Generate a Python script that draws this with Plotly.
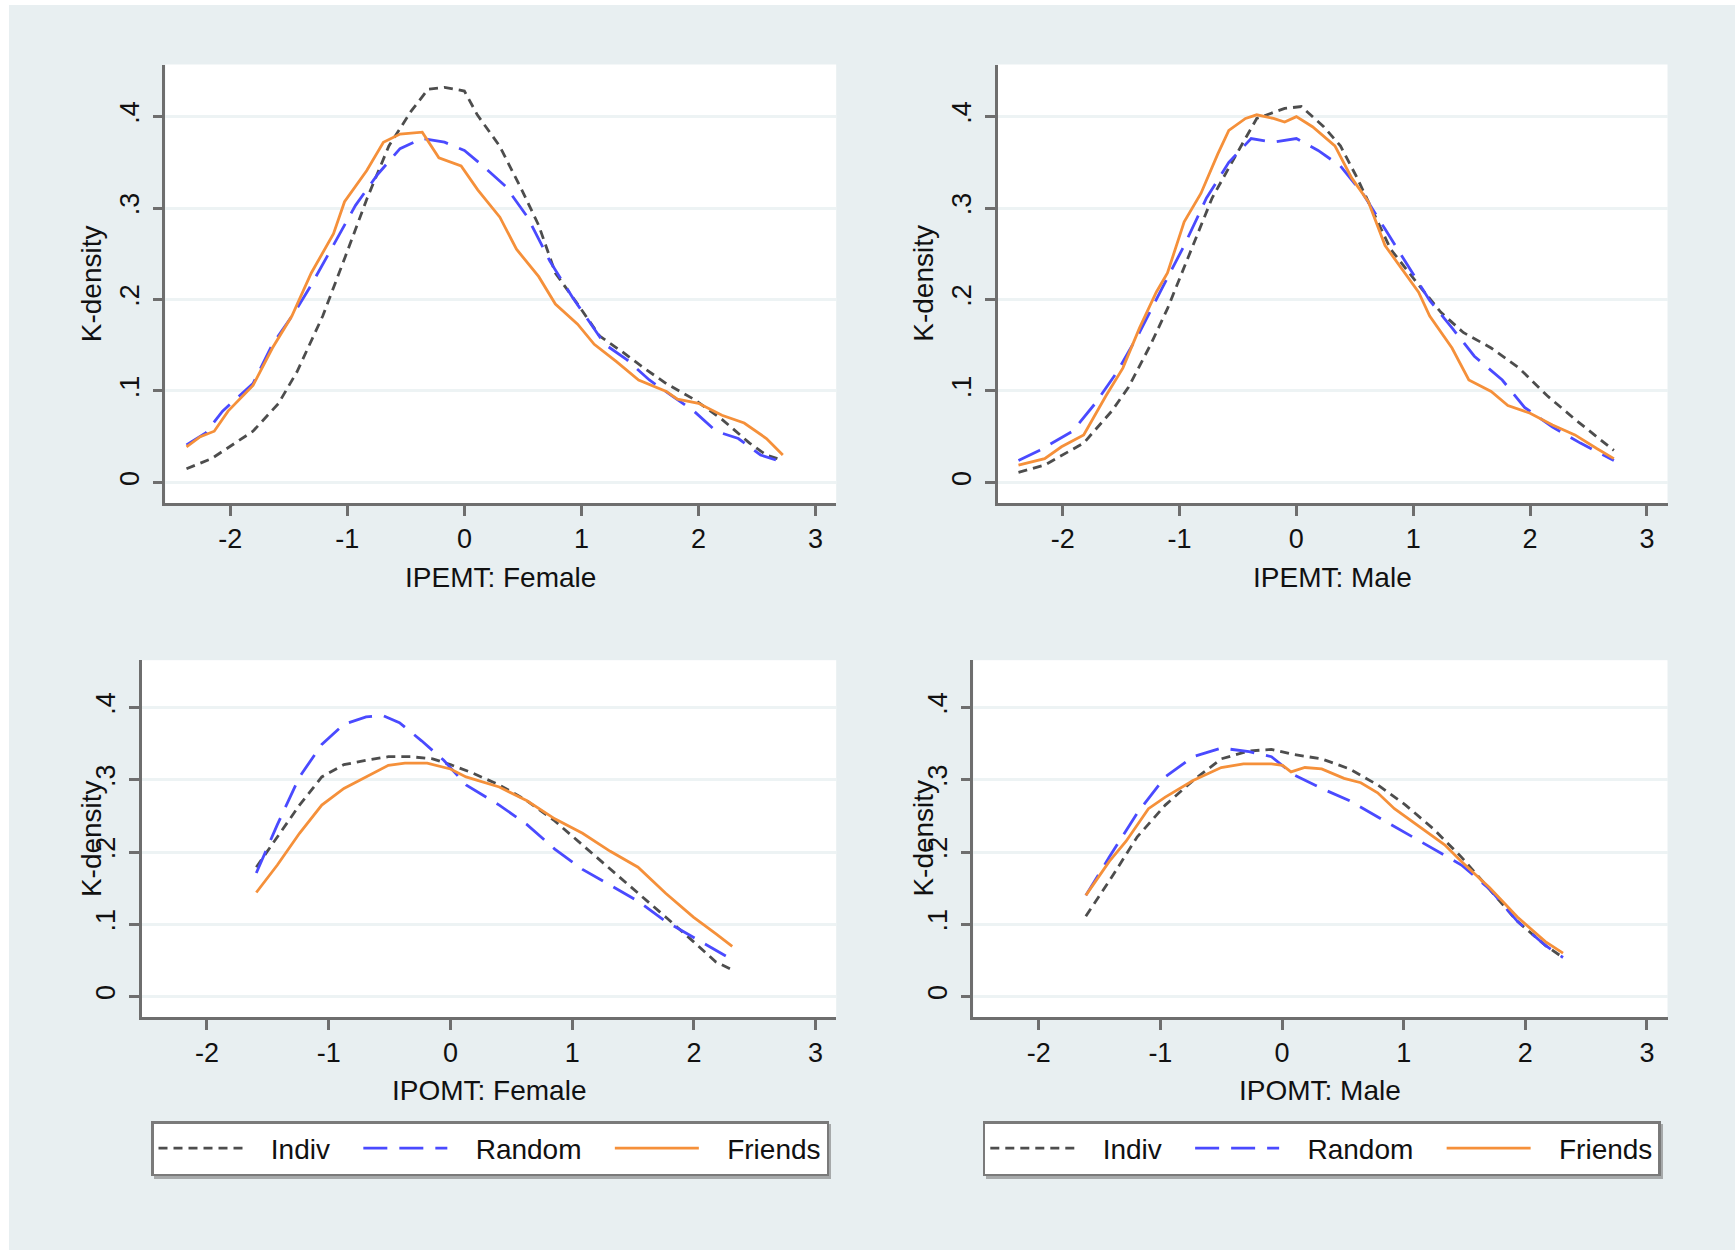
import plotly.graph_objects as go

# ---------------- data ----------------
series_names = ["Indiv", "Random", "Friends"]
panel_titles = ["IPEMT: Female", "IPEMT: Male", "IPOMT: Female", "IPOMT: Male"]
y_tick_vals = [0, 0.1, 0.2, 0.3, 0.4]
y_tick_text = ["0", ".1", ".2", ".3", ".4"]
x_tick_vals = [-2, -1, 0, 1, 2, 3]
x_tick_text = ["-2", "-1", "0", "1", "2", "3"]

# Panel 1: IPEMT Female
p1_indiv_x = [-2.374, -2.16, -1.806, -1.59, -1.43, -1.21, -1.02, -0.83, -0.645, -0.455, -0.31, -0.17, 0.0, 0.11, 0.30, 0.49, 0.635, 0.777, 0.967, 1.156, 1.346, 1.535, 1.725, 1.96, 2.2, 2.436, 2.578, 2.72]
p1_indiv_y = [0.015, 0.026, 0.056, 0.086, 0.121, 0.182, 0.246, 0.311, 0.368, 0.406, 0.430, 0.432, 0.428, 0.402, 0.368, 0.320, 0.281, 0.229, 0.195, 0.160, 0.143, 0.125, 0.108, 0.091, 0.069, 0.043, 0.030, 0.024]
p1_random_x = [-2.374, -2.21, -2.066, -1.806, -1.64, -1.45, -1.308, -1.118, -0.93, -0.74, -0.55, -0.36, -0.17, 0.0, 0.16, 0.35, 0.54, 0.73, 0.92, 1.06, 1.2, 1.39, 1.58, 1.77, 1.96, 2.15, 2.34, 2.53, 2.72]
p1_random_y = [0.041, 0.054, 0.078, 0.108, 0.151, 0.186, 0.216, 0.259, 0.303, 0.337, 0.365, 0.376, 0.372, 0.363, 0.346, 0.324, 0.290, 0.242, 0.203, 0.177, 0.151, 0.134, 0.112, 0.095, 0.078, 0.056, 0.048, 0.030, 0.022]
p1_friends_x = [-2.374, -2.256, -2.137, -2.019, -1.806, -1.64, -1.474, -1.308, -1.118, -1.024, -0.834, -0.692, -0.55, -0.36, -0.218, -0.028, 0.114, 0.303, 0.445, 0.635, 0.777, 0.967, 1.109, 1.299, 1.488, 1.725, 1.82, 2.0, 2.2, 2.39, 2.58, 2.72]
p1_friends_y = [0.039, 0.050, 0.056, 0.078, 0.106, 0.147, 0.182, 0.229, 0.272, 0.307, 0.341, 0.372, 0.381, 0.383, 0.355, 0.346, 0.320, 0.290, 0.255, 0.225, 0.195, 0.173, 0.151, 0.132, 0.112, 0.0995, 0.091, 0.0865, 0.0735, 0.065, 0.048, 0.030]

# Panel 2: IPEMT Male
p2_indiv_x = [-2.378, -2.154, -1.82, -1.58, -1.437, -1.246, -1.103, -0.912, -0.721, -0.53, -0.339, -0.1, 0.043, 0.234, 0.377, 0.52, 0.664, 0.807, 1.046, 1.237, 1.428, 1.667, 1.906, 2.145, 2.384, 2.717]
p2_indiv_y = [0.011, 0.019, 0.043, 0.078, 0.104, 0.151, 0.190, 0.251, 0.311, 0.355, 0.398, 0.409, 0.411, 0.389, 0.368, 0.333, 0.294, 0.255, 0.216, 0.186, 0.164, 0.147, 0.125, 0.095, 0.069, 0.035]
p2_random_x = [-2.378, -2.2, -1.915, -1.724, -1.533, -1.342, -1.151, -0.96, -0.769, -0.578, -0.387, -0.196, 0.0, 0.186, 0.377, 0.568, 0.759, 0.95, 1.141, 1.332, 1.523, 1.762, 1.953, 2.192, 2.431, 2.717]
p2_random_y = [0.024, 0.035, 0.056, 0.086, 0.121, 0.164, 0.212, 0.259, 0.311, 0.350, 0.376, 0.372, 0.376, 0.363, 0.346, 0.316, 0.277, 0.238, 0.199, 0.169, 0.138, 0.112, 0.082, 0.0605, 0.043, 0.024]
p2_friends_x = [-2.378, -2.154, -2.01, -1.82, -1.628, -1.485, -1.342, -1.199, -1.103, -0.96, -0.817, -0.673, -0.578, -0.435, -0.339, -0.196, -0.1, 0.0, 0.138, 0.33, 0.473, 0.616, 0.759, 0.903, 1.046, 1.141, 1.332, 1.476, 1.667, 1.81, 2.0, 2.192, 2.384, 2.574, 2.717]
p2_friends_y = [0.019, 0.026, 0.039, 0.052, 0.095, 0.125, 0.169, 0.208, 0.229, 0.285, 0.316, 0.359, 0.385, 0.398, 0.402, 0.398, 0.394, 0.400, 0.389, 0.368, 0.333, 0.307, 0.259, 0.234, 0.208, 0.182, 0.147, 0.112, 0.0995, 0.084, 0.0757, 0.0627, 0.052, 0.0368, 0.026]

# Panel 3: IPOMT Female
p3_indiv_x = [-1.595, -1.422, -1.24, -1.057, -0.875, -0.693, -0.51, -0.328, -0.146, 0.0, 0.173, 0.401, 0.629, 0.857, 1.085, 1.313, 1.541, 1.768, 1.996, 2.179, 2.315]
p3_indiv_y = [0.179, 0.221, 0.265, 0.304, 0.321, 0.327, 0.332, 0.332, 0.329, 0.321, 0.310, 0.293, 0.271, 0.243, 0.210, 0.176, 0.143, 0.110, 0.076, 0.048, 0.037]
p3_random_x = [-1.595, -1.422, -1.24, -1.057, -0.875, -0.693, -0.556, -0.419, -0.237, -0.055, 0.128, 0.401, 0.629, 0.857, 1.085, 1.313, 1.541, 1.768, 1.996, 2.179, 2.315]
p3_random_y = [0.171, 0.238, 0.304, 0.349, 0.377, 0.387, 0.389, 0.379, 0.354, 0.327, 0.293, 0.265, 0.238, 0.204, 0.176, 0.154, 0.132, 0.104, 0.0818, 0.065, 0.051]
p3_friends_x = [-1.595, -1.422, -1.24, -1.057, -0.875, -0.693, -0.51, -0.374, -0.191, 0.0, 0.128, 0.401, 0.629, 0.857, 1.085, 1.313, 1.541, 1.768, 1.996, 2.179, 2.315]
p3_friends_y = [0.144, 0.182, 0.226, 0.265, 0.288, 0.304, 0.320, 0.323, 0.323, 0.315, 0.304, 0.290, 0.271, 0.246, 0.226, 0.201, 0.179, 0.143, 0.110, 0.087, 0.0695]

# Panel 4: IPOMT Male
p4_indiv_x = [-1.613, -1.42, -1.19, -0.96, -0.731, -0.5, -0.271, -0.087, 0.097, 0.326, 0.556, 0.786, 1.016, 1.245, 1.475, 1.705, 1.935, 2.165, 2.31]
p4_indiv_y = [0.111, 0.160, 0.221, 0.265, 0.299, 0.329, 0.340, 0.342, 0.335, 0.329, 0.315, 0.293, 0.265, 0.232, 0.193, 0.149, 0.104, 0.0707, 0.054]
p4_random_x = [-1.613, -1.42, -1.19, -0.96, -0.731, -0.5, -0.271, -0.087, 0.097, 0.326, 0.556, 0.786, 1.016, 1.245, 1.475, 1.705, 1.935, 2.165, 2.31]
p4_random_y = [0.140, 0.193, 0.254, 0.304, 0.332, 0.344, 0.339, 0.332, 0.307, 0.288, 0.271, 0.249, 0.226, 0.204, 0.182, 0.149, 0.104, 0.0707, 0.054]
p4_friends_x = [-1.613, -1.42, -1.282, -1.098, -0.96, -0.731, -0.5, -0.317, -0.087, 0.005, 0.074, 0.188, 0.326, 0.51, 0.648, 0.786, 0.924, 1.108, 1.337, 1.475, 1.705, 1.935, 2.165, 2.31]
p4_friends_y = [0.140, 0.187, 0.215, 0.260, 0.276, 0.299, 0.317, 0.322, 0.322, 0.320, 0.311, 0.317, 0.315, 0.302, 0.296, 0.282, 0.260, 0.238, 0.210, 0.187, 0.151, 0.110, 0.076, 0.060]

# ---------------- styling ----------------
W, H = 1735, 1250
FONT = "Liberation Sans, Arial, Helvetica, sans-serif"
BG = "#e8eff1"
GRID = "#edf3f4"
AXIS = "#6e6e6e"
NB = "\u00a0"
styles = {
    "Indiv": dict(color="#4d4d4d", dash="9px,6px", width=2.8),
    "Random": dict(color="#4a4aff", dash="24px,12px", width=2.8),
    "Friends": dict(color="#f5903a", dash="solid", width=2.8),
}
# legend label padding (gap after the line sample, and between entries)
legend_labels = {
    "Indiv": NB * 3 + "Indiv" + NB * 3,
    "Random": NB * 3 + "Random" + NB * 3,
    "Friends": NB * 3 + "Friends",
}

panels = [
    dict(data=[(p1_indiv_x, p1_indiv_y), (p1_random_x, p1_random_y), (p1_friends_x, p1_friends_y)],
         px=(165.3, 836.2), py=(64.5, 503), xr=[-2.555, 3.176], yr=[-0.0225, 0.457], legend=None),
    dict(data=[(p2_indiv_x, p2_indiv_y), (p2_random_x, p2_random_y), (p2_friends_x, p2_friends_y)],
         px=(997.8, 1667.5), py=(64.5, 503), xr=[-2.555, 3.176], yr=[-0.0225, 0.457], legend=None),
    dict(data=[(p3_indiv_x, p3_indiv_y), (p3_random_x, p3_random_y), (p3_friends_x, p3_friends_y)],
         px=(141.5, 836.2), py=(660.2, 1017), xr=[-2.538, 3.169], yr=[-0.0284, 0.4656], legend="legend"),
    dict(data=[(p4_indiv_x, p4_indiv_y), (p4_random_x, p4_random_y), (p4_friends_x, p4_friends_y)],
         px=(973.3, 1667.5), py=(660.2, 1017), xr=[-2.538, 3.169], yr=[-0.0284, 0.4656], legend="legend2"),
]

fig = go.Figure()
layout = dict(
    width=W, height=H, margin=dict(l=0, r=0, t=0, b=0),
    paper_bgcolor=BG, plot_bgcolor="white",
    font=dict(family=FONT, size=27, color="#111111"),
    showlegend=True,
)
annotations = []

for i, p in enumerate(panels):
    k = "" if i == 0 else str(i + 1)
    xa, ya = "xaxis" + k, "yaxis" + k
    for name, (xs, ys) in zip(series_names, p["data"]):
        st = styles[name]
        tr = go.Scatter(
            x=xs, y=ys, mode="lines", name=legend_labels[name],
            line=dict(color=st["color"], dash=st["dash"], width=st["width"]),
            xaxis="x" + k, yaxis="y" + k,
            showlegend=p["legend"] is not None, hoverinfo="skip",
        )
        if p["legend"]:
            tr.legend = p["legend"]
        fig.add_trace(tr)
    layout[xa] = dict(
        domain=[p["px"][0] / W, p["px"][1] / W], range=p["xr"], anchor="y" + k,
        tickvals=x_tick_vals, ticktext=x_tick_text, ticks="outside", ticklen=10,
        tickwidth=2.5, tickcolor=AXIS, showline=True, linecolor=AXIS, linewidth=2.5,
        showgrid=False, zeroline=False, ticklabelstandoff=0,
        tickfont=dict(size=27, family=FONT, color="#111111"),
    )
    layout[ya] = dict(
        domain=[1 - p["py"][1] / H, 1 - p["py"][0] / H], range=p["yr"], anchor="x" + k,
        tickvals=y_tick_vals, ticktext=y_tick_text, ticks="outside", ticklen=10,
        tickwidth=2.5, tickcolor=AXIS, showline=True, linecolor=AXIS, linewidth=2.5,
        showgrid=True, gridcolor=GRID, gridwidth=3, zeroline=False, tickangle=-90,
        ticklabelstandoff=3, tickfont=dict(size=27, family=FONT, color="#111111"),
    )
    cx = (p["px"][0] + p["px"][1]) / 2
    cy = (p["py"][0] + p["py"][1]) / 2
    xt_y = 577 if i < 2 else 1090
    annotations.append(dict(text=panel_titles[i], x=cx / W, y=1 - xt_y / H, xref="paper", yref="paper",
                            xanchor="center", yanchor="middle", showarrow=False,
                            font=dict(size=28, family=FONT, color="#111111")))
    yt_x = 91.5 if i % 2 == 0 else 924
    annotations.append(dict(text="K-density", x=yt_x / W, y=1 - cy / H, xref="paper", yref="paper",
                            xanchor="center", yanchor="middle", showarrow=False, textangle=-90,
                            font=dict(size=28, family=FONT, color="#111111")))

leg_common = dict(
    orientation="h", bgcolor="white", bordercolor="#7a7a7a", borderwidth=2.5,
    font=dict(size=28, family=FONT, color="#111111"), itemwidth=84,
    xanchor="left", yanchor="top", tracegroupgap=0, itemclick=False, itemdoubleclick=False,
)
layout["legend"] = dict(leg_common, x=151 / W, y=1 - 1121 / H)
layout["legend2"] = dict(leg_common, x=982.8 / W, y=1 - 1121 / H)
layout["annotations"] = annotations


def px_rect(x0, y0, x1, y1, color):
    return dict(type="rect", xref="paper", yref="paper", x0=x0 / W, x1=x1 / W,
                y0=1 - y1 / H, y1=1 - y0 / H, fillcolor=color, line=dict(width=0), layer="below")


layout["shapes"] = [
    px_rect(0, 0, 9, H, "white"),
    px_rect(0, 0, W, 5, "white"),
    # soft drop shadows under the two legend boxes
    px_rect(154, 1124, 831, 1179, "#a6a9aa"),
    px_rect(986, 1124, 1663, 1179, "#a6a9aa"),
]
fig.update_layout(**layout)
fig.write_html("out.html")
